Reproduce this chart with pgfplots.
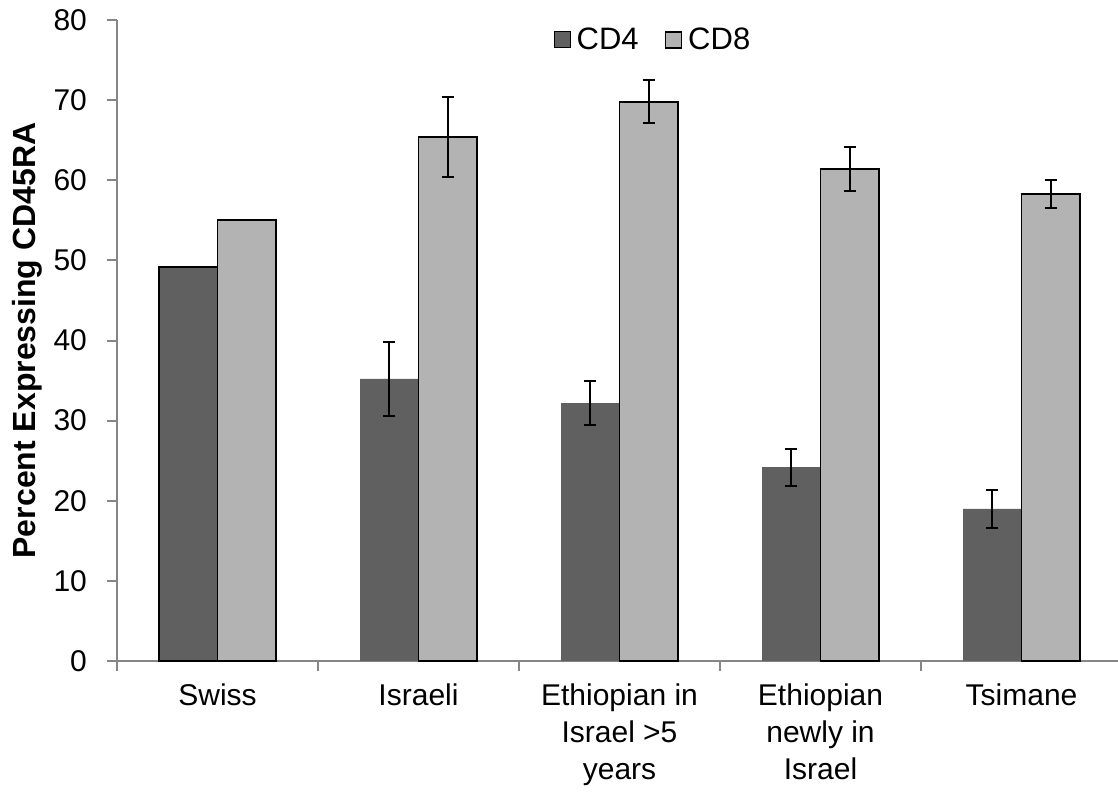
\documentclass[border=0pt]{standalone}
\usepackage{fontspec}
\setmainfont{Liberation Sans}
\usepackage{pgfplots}
\pgfplotsset{compat=1.18}
\definecolor{cdfour}{HTML}{606060}
\definecolor{cdeight}{HTML}{B3B3B3}
\definecolor{axiscol}{HTML}{868686}
\begin{document}
\begin{tikzpicture}
\begin{axis}[
  name=ax,
  at={(0,0)}, anchor=south west,
  scale only axis,
  width=500.5pt, height=320.5pt,
  xmin=-0.5, xmax=4.48,
  ymin=0, ymax=80,
  ytick={0,10,...,80},
  axis x line=bottom, axis y line=left,
  axis line style={-, draw=axiscol, line width=1pt},
  tick style={draw=axiscol, line width=1pt},
  tick align=outside,
  major tick length=5pt,
  xtick={-0.5,0.5,1.5,2.5,3.5,4.5},
  xticklabels={},
  extra x ticks={0,1,2,3,4},
  extra x tick labels={Swiss,Israeli,{Ethiopian in\\Israel >5\\years},{Ethiopian\\newly in\\Israel},Tsimane},
  extra x tick style={major tick length=0pt, tick style={draw=none}},
  xticklabel style={align=center, font=\fontsize{15pt}{18.5pt}\selectfont, yshift=-8pt},
  yticklabel style={font=\fontsize{15pt}{18pt}\selectfont, xshift=-6.5pt},
  /pgf/number format/assume math mode=true,
  ylabel={\textbf{Percent Expressing CD45RA}},
  ylabel style={font=\fontsize{16pt}{19pt}\selectfont, at={(axis description cs:-0.0739,0.5)}, anchor=south, inner sep=0pt},
  ybar, bar width=0.29,
  legend style={at={(0.5375,0.969)}, anchor=center, draw=none, fill=none,
    font=\fontsize{15.5pt}{18pt}\selectfont, legend columns=2,
    /tikz/every even column/.append style={column sep=10pt},
    nodes={inner xsep=3pt}},
  legend image code/.code={\draw[#1] (0pt,-4pt) rectangle (8pt,4pt);},
  error bars/y dir=both, error bars/y explicit,
  error bars/error bar style={black, line width=1pt},
  error bars/error mark options={rotate=90, mark size=3pt, black, line width=1pt},
]
\addlegendimage{fill=cdfour, draw=none}
\addlegendentry{CD4}
\addlegendimage{fill=cdeight, draw=black, line width=0.8pt}
\addlegendentry{CD8}
% Swiss (no error bars)
\addplot[forget plot, fill=cdfour, draw=black, line width=0.9pt, bar shift=-0.145, error bars/y dir=none]
  coordinates {(0,49.2)};
\addplot[forget plot, fill=cdeight, draw=black, line width=0.9pt, bar shift=0.145, error bars/y dir=none]
  coordinates {(0,55.0)};
% CD4
\addplot[forget plot, fill=cdfour, draw=none, bar shift=-0.145]
  coordinates {(1,35.2) +- (0,4.6) (2,32.2) +- (0,2.7) (3,24.2) +- (0,2.3) (4,19.0) +- (0,2.4)};
% CD8
\addplot[forget plot, fill=cdeight, draw=black, line width=0.9pt, bar shift=0.145]
  coordinates {(1,65.4) +- (0,4.95) (2,69.8) +- (0,2.7) (3,61.4) +- (0,2.8) (4,58.3) +- (0,1.75)};
\end{axis}
\pgfresetboundingbox
\path[use as bounding box] ([shift={(-58.5pt,-66pt)}]ax.south west) rectangle ([shift={(500.5pt,330.5pt)}]ax.south west);
\end{tikzpicture}
\end{document}
